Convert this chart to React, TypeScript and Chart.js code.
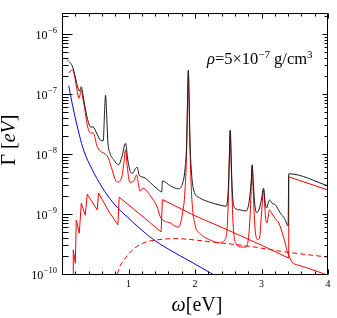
import React, { useEffect, useRef } from 'react';
import { Chart, registerables } from 'chart.js';

Chart.register(...registerables);

const SERIF = '"Liberation Serif", "Times New Roman", Times, serif';

// Total rate (black)
const totalOmega = [0.08, 0.16, 0.20, 0.235, 0.26, 0.29, 0.31, 0.34, 0.38, 0.43, 0.47, 0.52, 0.58, 0.62, 0.64, 0.655, 0.67, 0.69, 0.72, 0.78, 0.85, 0.90, 0.955, 0.99, 1.03, 1.06, 1.10, 1.13, 1.16, 1.20, 1.25, 1.33, 1.43, 1.50, 1.51, 1.63, 1.75, 1.81, 1.85, 1.875, 1.89, 1.90, 1.91, 1.925, 1.95, 1.98, 2.07, 2.22, 2.37, 2.47, 2.50, 2.515, 2.53, 2.545, 2.56, 2.60, 2.68, 2.77, 2.82, 2.845, 2.86, 2.875, 2.90, 2.93, 2.97, 3.00, 3.03, 3.06, 3.08, 3.10, 3.12, 3.16, 3.21, 3.28, 3.35, 3.40, 3.41, 4.00];
const totalGamma = [3.72e-7, 2.82e-7, 1.91e-7, 1.32e-7, 1.12e-7, 1.32e-7, 1.05e-7, 6.61e-8, 3.98e-8, 2.82e-8, 2.82e-8, 2.24e-8, 1.70e-8, 1.66e-8, 5.01e-8, 9.55e-8, 5.01e-8, 1.58e-8, 1.05e-8, 7.94e-9, 6.61e-9, 8.91e-9, 1.51e-8, 7.94e-9, 5.01e-9, 4.79e-9, 5.62e-9, 6.03e-9, 4.47e-9, 4.17e-9, 3.98e-9, 3.31e-9, 2.63e-9, 2.34e-9, 3.55e-9, 2.95e-9, 2.63e-9, 3.16e-9, 5.62e-9, 1.58e-8, 1.0e-7, 2.51e-7, 1.0e-7, 1.58e-8, 4.47e-9, 2.51e-9, 1.86e-9, 1.58e-9, 1.41e-9, 1.35e-9, 2.51e-9, 7.94e-9, 2.51e-8, 7.94e-9, 2.51e-9, 1.26e-9, 1.17e-9, 1.12e-9, 1.78e-9, 3.55e-9, 6.61e-9, 3.55e-9, 1.41e-9, 1.05e-9, 1.26e-9, 1.78e-9, 2.69e-9, 1.41e-9, 1.26e-9, 1.51e-9, 1.70e-9, 1.51e-9, 1.41e-9, 1.05e-9, 8.32e-10, 6.31e-10, 4.68e-9, 2.95e-9];

// Line (bound-bound) contribution (red solid)
const lineOmega = [0.10, 0.15, 0.18, 0.22, 0.255, 0.29, 0.31, 0.34, 0.38, 0.43, 0.47, 0.53, 0.60, 0.65, 0.69, 0.73, 0.83, 0.90, 0.93, 0.955, 0.98, 1.02, 1.08, 1.12, 1.15, 1.17, 1.22, 1.33, 1.43, 1.48, 1.63, 1.75, 1.81, 1.85, 1.875, 1.89, 1.90, 1.91, 1.925, 1.95, 2.00, 2.07, 2.22, 2.37, 2.45, 2.49, 2.515, 2.53, 2.545, 2.57, 2.62, 2.70, 2.77, 2.82, 2.845, 2.86, 2.875, 2.90, 2.94, 2.97, 3.00, 3.03, 3.06, 3.08, 3.10, 3.12, 3.16, 3.21, 3.26, 3.33, 3.39, 3.46, 3.55, 3.69, 4.00];
const lineGamma = [2.24e-7, 2.51e-7, 2.24e-7, 1.26e-7, 8.51e-8, 1.17e-7, 8.91e-8, 5.89e-8, 3.02e-8, 2.24e-8, 2.24e-8, 1.32e-8, 1.07e-8, 1.0e-8, 8.91e-9, 6.61e-9, 3.39e-9, 4.17e-9, 7.08e-9, 1.17e-8, 6.31e-9, 3.39e-9, 3.55e-9, 4.47e-9, 3.16e-9, 2.40e-9, 2.69e-9, 2.0e-9, 1.32e-9, 8.91e-10, 7.08e-10, 6.03e-10, 1.0e-9, 2.51e-9, 1.26e-8, 8.91e-8, 2.40e-7, 8.91e-8, 1.26e-8, 2.0e-9, 6.61e-10, 4.79e-10, 3.72e-10, 3.31e-10, 3.72e-10, 7.94e-10, 6.31e-9, 2.40e-8, 6.31e-9, 7.94e-10, 3.16e-10, 2.82e-10, 2.82e-10, 6.31e-10, 2.51e-9, 6.31e-9, 2.51e-9, 6.31e-10, 3.72e-10, 3.98e-10, 1.0e-9, 2.51e-9, 8.91e-10, 7.08e-10, 8.91e-10, 1.17e-9, 1.0e-9, 8.32e-10, 7.08e-10, 4.17e-10, 2.34e-10, 1.58e-10, 1.41e-10, 1.26e-10, 9.55e-11];

// Edge (bound-free) contribution (red sawtooth)
const edgeOmega = [0.168, 0.17, 0.20, 0.215, 0.26, 0.29, 0.35, 0.38, 0.53, 0.55, 0.70, 0.84, 0.86, 1.20, 1.49, 1.51, 2.00, 2.50, 3.00, 3.40, 3.41, 4.00];
const edgeGamma = [8e-11, 2.51e-10, 1.51e-10, 7.94e-10, 4.79e-10, 1.51e-9, 9.55e-10, 2.14e-9, 1.17e-9, 2.24e-9, 1.12e-9, 6.61e-10, 1.91e-9, 9.33e-10, 5.01e-10, 1.74e-9, 9.33e-10, 5.37e-10, 3.02e-10, 1.86e-10, 4.17e-9, 2.51e-9];

// Dashed red contribution
const dashOmega = [0.835, 0.86, 0.93, 1.06, 1.23, 1.44, 1.70, 1.88, 2.28, 2.77, 3.28, 4.00];
const dashGamma = [1.0e-10, 1.26e-10, 1.70e-10, 2.51e-10, 3.31e-10, 3.72e-10, 3.89e-10, 3.80e-10, 3.39e-10, 2.95e-10, 2.40e-10, 1.91e-10];

// Blue contribution
const blueOmega = [0.10, 0.18, 0.26, 0.33, 0.45, 0.60, 0.76, 1.06, 1.38, 1.78, 1.98, 2.26, 2.50];
const blueGamma = [1.38e-7, 5.01e-8, 2.09e-8, 1.12e-8, 5.62e-9, 2.82e-9, 1.58e-9, 7.41e-10, 3.72e-10, 2.0e-10, 1.51e-10, 1.0e-10, 7.08e-11];

const xTickLabels = ['1', '2', '3', '4'];
const yDecades = [-10, -9, -8, -7, -6];

const X_MIN = 0;
const X_MAX = 4;
const Y_MIN = 1e-10;
const Y_MAX = 2.24e-6;

const zip = (xs: number[], ys: number[]) => xs.map((x, i) => ({ x, y: ys[i] }));

type Seg = { t: string; font: string; dy?: number };
function drawRich(ctx: CanvasRenderingContext2D, x: number, y: number, segs: Seg[], align: 'left' | 'center') {
  let total = 0;
  for (const s of segs) {
    ctx.font = s.font;
    total += ctx.measureText(s.t).width;
  }
  let cx = align === 'center' ? x - total / 2 : x;
  ctx.textAlign = 'left';
  ctx.textBaseline = 'alphabetic';
  for (const s of segs) {
    ctx.font = s.font;
    ctx.fillText(s.t, cx, y + (s.dy || 0));
    cx += ctx.measureText(s.t).width;
  }
}

const decorPlugin = {
  id: 'decor',
  afterDraw(chart: any) {
    const { ctx, chartArea: a } = chart;
    const xs = chart.scales.x;
    const ys = chart.scales.y;
    ctx.save();
    ctx.strokeStyle = '#000';
    ctx.lineWidth = 1;
    const L = a.left + 0.5;
    const R = a.right - 0.5;
    const T = a.top + 0.5;
    const B = a.bottom + 0.5;
    ctx.beginPath();
    ctx.rect(L, T, R - L, B - T);
    for (let e = -10; e <= -6; e++) {
      for (let m = 1; m <= 9; m++) {
        const v = m * Math.pow(10, e);
        if (v < Y_MIN * 0.999 || v > Y_MAX) continue;
        const y = Math.round(ys.getPixelForValue(v)) + 0.5;
        const major = m === 1;
        ctx.moveTo(L, y);
        ctx.lineTo(L + (major ? 10 : 6), y);
        ctx.moveTo(R, y);
        ctx.lineTo(R - (major ? 5 : 3), y);
      }
    }
    for (let i = 0; i <= 20; i++) {
      const v = i * 0.2;
      const x = Math.round(xs.getPixelForValue(v)) + 0.5;
      const major = i % 5 === 0;
      ctx.moveTo(x, B);
      ctx.lineTo(x, B - (major ? 5 : 3));
      ctx.moveTo(x, T);
      ctx.lineTo(x, T + (major ? 5 : 3));
    }
    ctx.stroke();

    ctx.fillStyle = '#000';
    // x tick labels
    ctx.font = `10px ${SERIF}`;
    ctx.textAlign = 'center';
    ctx.textBaseline = 'middle';
    xTickLabels.forEach((lab) => {
      ctx.fillText(lab, xs.getPixelForValue(Number(lab)), a.bottom + 10);
    });

    // y tick labels 10^n
    const right = a.left - 5;
    yDecades.forEach((e) => {
      const y = ys.getPixelForValue(Math.pow(10, e));
      const exp = '\u2212' + String(-e);
      ctx.textAlign = 'left';
      ctx.textBaseline = 'alphabetic';
      ctx.font = `8.5px ${SERIF}`;
      const we = ctx.measureText(exp).width;
      ctx.fillText(exp, right - we, y - 1.5);
      ctx.font = `12px ${SERIF}`;
      const w10 = ctx.measureText('10').width;
      ctx.fillText('10', right - we - w10 - 0.5, y + 4.5);
    });

    // x title
    drawRich(ctx, 197, 311, [
      { t: '\u03c9', font: `italic 20px ${SERIF}` },
      { t: '[eV]', font: `20px ${SERIF}` },
    ], 'center');

    // y title
    ctx.save();
    ctx.translate(15, 140);
    ctx.rotate(-Math.PI / 2);
    drawRich(ctx, 0, 0, [
      { t: '\u0393 [', font: `20px ${SERIF}` },
      { t: 'eV', font: `italic 20px ${SERIF}` },
      { t: ']', font: `20px ${SERIF}` },
    ], 'center');
    ctx.restore();

    // annotation
    drawRich(ctx, 207, 64, [
      { t: '\u03c1', font: `italic 16.5px ${SERIF}` },
      { t: '=5\u00d710', font: `16.5px ${SERIF}` },
      { t: '\u22127', font: `11px ${SERIF}`, dy: -6.5 },
      { t: ' g/cm', font: `16.5px ${SERIF}` },
      { t: '3', font: `11px ${SERIF}`, dy: -6.5 },
    ], 'left');

    ctx.restore();
  },
};

export default function App() {
  const ref = useRef<HTMLCanvasElement>(null);
  useEffect(() => {
    if (!ref.current) return;
    const chart = new Chart(ref.current, {
      type: 'line',
      data: {
        datasets: [
          { data: zip(totalOmega, totalGamma), borderColor: '#1a1a1a', borderWidth: 1, cubicInterpolationMode: 'monotone', pointRadius: 0 },
          { data: zip(lineOmega, lineGamma), borderColor: '#ff0000', borderWidth: 1, cubicInterpolationMode: 'monotone', pointRadius: 0 },
          { data: zip(edgeOmega, edgeGamma), borderColor: '#ff0000', borderWidth: 1, tension: 0, pointRadius: 0 },
          { data: zip(dashOmega, dashGamma), borderColor: '#ff0000', borderWidth: 1, borderDash: [5, 3], cubicInterpolationMode: 'monotone', pointRadius: 0 },
          { data: zip(blueOmega, blueGamma), borderColor: '#0000ff', borderWidth: 1, cubicInterpolationMode: 'monotone', pointRadius: 0 },
        ] as any,
      },
      options: {
        animation: false,
        responsive: false,
        devicePixelRatio: 1,
        layout: { padding: { left: 0, right: 9, top: 13, bottom: 0 } },
        plugins: { legend: { display: false }, tooltip: { enabled: false } },
        scales: {
          x: {
            type: 'linear',
            min: X_MIN,
            max: X_MAX,
            grid: { display: false },
            border: { display: false },
            ticks: { display: false },
            afterFit: (s: any) => { s.height = 44; },
          },
          y: {
            type: 'logarithmic',
            min: Y_MIN,
            max: Y_MAX,
            grid: { display: false },
            border: { display: false },
            ticks: { display: false },
            afterFit: (s: any) => { s.width = 62; },
          },
        },
      } as any,
      plugins: [decorPlugin],
    });
    return () => chart.destroy();
  }, []);
  return (
    <div style={{ position: 'fixed', left: 0, top: 0, width: 337, height: 318, background: '#fff' }}>
      <canvas ref={ref} width={337} height={318} style={{ display: 'block', width: 337, height: 318 }} />
    </div>
  );
}
